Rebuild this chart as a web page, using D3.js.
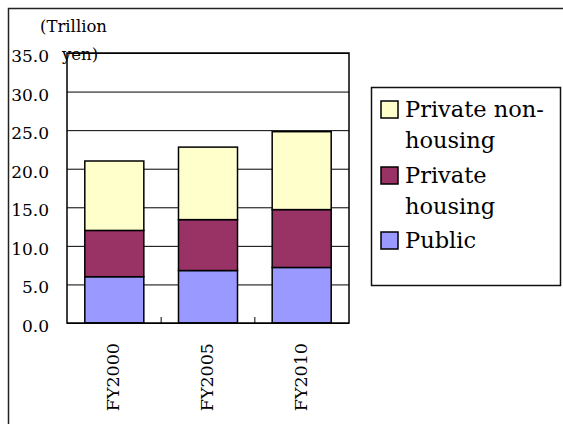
<!DOCTYPE html>
<html>
<head>
<meta charset="utf-8">
<script src="https://cdn.jsdelivr.net/npm/d3@7"></script>
<style>
  html, body { margin: 0; padding: 0; background: #fff; }
  svg { display: block; }
</style>
</head>
<body>
<svg id="chart" width="563" height="424"></svg>
<script>
// Construction investment by type (trillion yen)
const categories = ["FY2000", "FY2005", "FY2010"];
const publicValues = [6.0, 6.8, 7.2];
const privateHousing = [6.0, 6.6, 7.5];
const privateNonHousing = [9.0, 9.4, 10.1];
const seriesNames = ["Public", "Private housing", "Private non-housing"];
const seriesColors = ["#9999ff", "#993366", "#ffffcc"];
const yTicks = [0, 5, 10, 15, 20, 25, 30, 35];
const unitLines = ["(Trillion", "yen)"];
const legendLines = [["Private non-", "housing"], ["Private", "housing"], ["Public"]];

const serif = "'DejaVu Serif', 'Liberation Serif', serif";

const rows = categories.map((c, i) => ({
  category: c,
  "Public": publicValues[i],
  "Private housing": privateHousing[i],
  "Private non-housing": privateNonHousing[i]
}));

const svg = d3.select("#chart");

// outer chart frame (extends past the right and bottom edges)
svg.append("rect")
  .attr("x", 8.5).attr("y", 8.5)
  .attr("width", 600).attr("height", 500)
  .attr("fill", "none").attr("stroke", "#222").attr("stroke-width", 1.5);

const plot = { left: 67, right: 349, top: 53, bottom: 323 };

const x = d3.scaleBand()
  .domain(categories)
  .range([plot.left, plot.right])
  .paddingInner(0.37)
  .paddingOuter(0.19);

const y = d3.scaleLinear()
  .domain([0, 35])
  .range([plot.bottom, plot.top]);

// plot background
svg.append("rect")
  .attr("x", plot.left).attr("y", plot.top)
  .attr("width", plot.right - plot.left).attr("height", plot.bottom - plot.top)
  .attr("fill", "#fff");

// y axis with gridlines
const yAxis = svg.append("g")
  .attr("transform", `translate(${plot.left},0)`)
  .call(d3.axisLeft(y)
    .tickValues(yTicks)
    .tickFormat(d3.format(".1f"))
    .tickSizeInner(-(plot.right - plot.left))
    .tickSizeOuter(0)
    .tickPadding(18));
yAxis.attr("font-family", serif).attr("font-size", 17);
yAxis.select(".domain").remove();
yAxis.selectAll(".tick line").attr("stroke", "#000").attr("stroke-width", 1);
yAxis.selectAll(".tick text")
  .attr("dy", "0.5em")
  .attr("fill", "#000");

// stacked bars
const stack = d3.stack().keys(seriesNames);
const layers = stack(rows);
svg.append("g").selectAll("g")
  .data(layers)
  .join("g")
  .attr("fill", (d, i) => seriesColors[i])
  .selectAll("rect")
  .data(d => d)
  .join("rect")
  .attr("x", d => x(d.data.category))
  .attr("y", d => y(d[1]))
  .attr("width", x.bandwidth())
  .attr("height", d => y(d[0]) - y(d[1]))
  .attr("stroke", "#000")
  .attr("stroke-width", 1.5);

// category separator ticks (inward)
const step = x.step();
const boundaries = categories.slice(1).map(c => x(c) - x.paddingInner() * step / 2);
svg.append("g").selectAll("line")
  .data(boundaries)
  .join("line")
  .attr("x1", d => d).attr("x2", d => d)
  .attr("y1", plot.bottom).attr("y2", plot.bottom - 6)
  .attr("stroke", "#000").attr("stroke-width", 1);

// unit label
svg.append("text").attr("x", 40).attr("y", 32)
  .attr("font-family", serif).attr("font-size", 16.5).text(unitLines[0]);
svg.append("text").attr("x", 62).attr("y", 59.5)
  .attr("font-family", serif).attr("font-size", 16.5).text(unitLines[1]);

// plot frame
svg.append("rect")
  .attr("x", plot.left).attr("y", plot.top)
  .attr("width", plot.right - plot.left).attr("height", plot.bottom - plot.top)
  .attr("fill", "none").attr("stroke", "#000").attr("stroke-width", 1.5);

// rotated category labels
svg.append("g").selectAll("text")
  .data(categories)
  .join("text")
  .attr("transform", d => `translate(${x(d) + x.bandwidth() / 2 + 5},343) rotate(-90)`)
  .attr("text-anchor", "end")
  .attr("font-family", serif)
  .attr("font-size", 17.5)
  .text(d => d);

// legend
const legend = svg.append("g");
legend.append("rect")
  .attr("x", 371.5).attr("y", 87.5)
  .attr("width", 189).attr("height", 198)
  .attr("fill", "#fff").attr("stroke", "#111").attr("stroke-width", 1.5);

const legendOrder = [2, 1, 0];
const legendBaselines = [117, 183, 248];
legendOrder.forEach((si, k) => {
  const base = legendBaselines[k];
  legend.append("rect")
    .attr("x", 381).attr("y", base - 16)
    .attr("width", 17).attr("height", 17)
    .attr("fill", seriesColors[si])
    .attr("stroke", "#000").attr("stroke-width", 1.5);
  legendLines[k].forEach((line, j) => {
    legend.append("text")
      .attr("x", 405).attr("y", base + j * 30.5)
      .attr("font-family", serif)
      .attr("font-size", 22.5)
      .text(line);
  });
});
</script>
</body>
</html>
